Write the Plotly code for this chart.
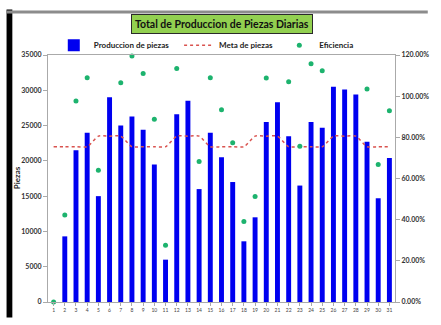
import plotly.graph_objects as go

dias = list(range(1, 32))
produccion = [0, 9300, 21500, 24000, 15000, 29000, 25000, 26300, 24400, 19500,
              6000, 26600, 28500, 16000, 24000, 20500, 17000, 8600, 12000, 25500,
              28300, 23500, 16500, 25500, 24700, 30500, 30100, 29400, 22700, 14700,
              20400]
meta = [22000, 22000, 22000, 22000, 23500, 23500, 23500, 22000, 22000, 22000,
        22000, 23500, 23500, 23500, 22000, 22000, 22000, 22000, 23500, 23500,
        23500, 22000, 22000, 22000, 22000, 23500, 23500, 23500, 22000, 22000,
        22000]
# None = above the 120% axis limit (not visible in the chart)
eficiencia = [0.0, 0.423, 0.977, 1.09, 0.64, None, 1.065, 1.195, 1.11, 0.888,
              0.276, 1.134, None, 0.683, 1.09, 0.934, 0.774, 0.391, 0.512, 1.088,
              None, 1.07, 0.757, 1.158, 1.123, None, None, None, 1.035, 0.668,
              0.929]
y_ticks = [0, 5000, 10000, 15000, 20000, 25000, 30000, 35000]
y2_ticks = [0, 0.2, 0.4, 0.6, 0.8, 1.0, 1.2]

W, H = 441, 325
L, R, T, B = 48, 33, 55, 15
PW, PH = W - L - R, H - T - B


def px_x(px):
    return (px - L) / PW


def px_y(py):
    return (H - B - py) / PH


font_family = "Lato, Open Sans, sans-serif"
legend_font = dict(family=font_family, size=8, color="#222222", weight="bold")

fig = go.Figure()
fig.add_trace(go.Bar(
    x=dias, y=produccion, name="Produccion de piezas", legend="legend",
    marker=dict(color="#0000F0", line=dict(width=0)),
))
fig.add_trace(go.Scatter(
    x=dias, y=meta, name="Meta de piezas", mode="lines", legend="legend2",
    line=dict(color="#D9534F", width=1.5, dash="dot", shape="spline", smoothing=0.6),
))
fig.add_trace(go.Scatter(
    x=dias, y=eficiencia, name="Eficiencia", mode="markers", yaxis="y2",
    legend="legend3",
    marker=dict(color="#1DB36E", size=5), cliponaxis=False,
))

axis_font = dict(family=font_family, size=7, color="#333333", weight="bold")


def leg(px):
    return dict(orientation="h", x=px_x(px), y=px_y(45), xanchor="left",
                yanchor="middle", font=legend_font, itemwidth=30,
                bgcolor="rgba(0,0,0,0)")


fig.update_layout(
    width=W, height=H,
    margin=dict(l=L, r=R, t=T, b=B, pad=0),
    paper_bgcolor="white", plot_bgcolor="white",
    bargap=0.56,
    showlegend=True,
    legend=leg(54),
    legend2=leg(184),
    legend3=leg(288),
    xaxis=dict(
        range=[0.5, 31.5], tickmode="array", tickvals=dias,
        ticktext=[str(d) for d in dias],
        tickfont=dict(family=font_family, size=5, color="#444444"),
        ticks="outside", ticklen=3, tickcolor="#AAAAAA", tickson="boundaries",
        showline=True, linecolor="#AAAAAA", linewidth=1, mirror=True,
        showgrid=False, zeroline=False,
    ),
    yaxis=dict(
        range=[0, 35000], tickmode="array", tickvals=y_ticks,
        ticktext=[str(v) for v in y_ticks],
        tickfont=axis_font, ticks="outside", ticklen=4, tickcolor="#AAAAAA",
        showline=True, linecolor="#AAAAAA", linewidth=1,
        showgrid=False, zeroline=False,
    ),
    yaxis2=dict(
        range=[0, 1.2], overlaying="y", side="right", tickmode="array",
        tickvals=y2_ticks, tickformat=".2%",
        tickfont=axis_font, ticks="outside", ticklen=4, tickcolor="#AAAAAA",
        showline=True, linecolor="#AAAAAA", linewidth=1,
        showgrid=False, zeroline=False,
    ),
    shapes=[
        dict(type="rect", xref="paper", yref="paper",
             x0=px_x(5), x1=px_x(11), y0=px_y(8), y1=px_y(326),
             fillcolor="black", line=dict(width=0), layer="above"),
        dict(type="line", xref="paper", yref="paper",
             x0=px_x(5), x1=px_x(442), y0=px_y(10.5), y1=px_y(10.5),
             line=dict(color="#8C8C8C", width=3), layer="above"),
    ],
    annotations=[
        dict(text="Total de Produccion de Piezas Diarias", xref="paper", yref="paper",
             x=px_x(228), y=px_y(23), xanchor="center", yanchor="middle",
             showarrow=False, bgcolor="#92D050", bordercolor="#2A2A2A",
             borderwidth=1, borderpad=3,
             font=dict(family=font_family, size=10.5, color="#111111", weight="bold")),
        dict(text="Piezas", xref="paper", yref="paper",
             x=px_x(16), y=px_y(182), xanchor="center", yanchor="middle",
             textangle=-90, showarrow=False,
             font=dict(family=font_family, size=8, color="#222222", weight="bold")),
    ],
)

fig.write_html("out.html")
